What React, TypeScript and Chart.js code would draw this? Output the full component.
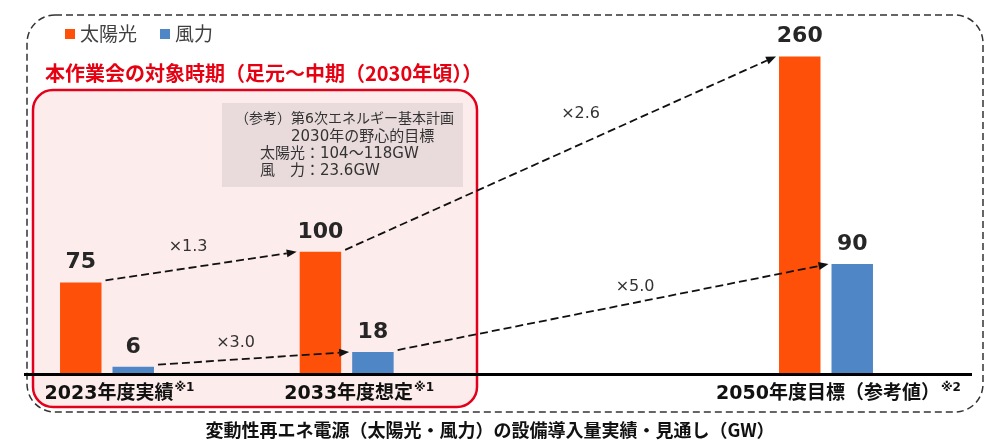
import React, { useEffect, useRef } from 'react';
import { Chart, registerables } from 'chart.js';

Chart.register(...registerables);

// ---- data ----
const categories = ['2023年度実績', '2033年度想定', '', '2050年度目標（参考値）'];
const categoryNotes = ['※1', '※1', '', '※2'];
const seriesNames = ['太陽光', '風力'];
const solarValues: (number | null)[] = [75, 100, null, 260];
const windValues: (number | null)[] = [6, 18, null, 90];
// growth arrows: [datasetIndex, fromCategoryIndex, toCategoryIndex]
const growthLinks: [number, number, number][] = [
  [0, 0, 1],
  [1, 0, 1],
  [0, 1, 3],
  [1, 1, 3],
];
const growthLabels = ['×1.3', '×3.0', '×2.6', '×5.0'];
const periodTitle = '本作業会の対象時期（足元〜中期（2030年頃））';
const noteLines = [
  '（参考）第6次エネルギー基本計画',
  '2030年の野心的目標',
  '太陽光：104〜118GW',
  '風　力：23.6GW',
];
const chartTitle = '変動性再エネ電源（太陽光・風力）の設備導入量実績・見通し（GW）';

// ---- styles ----
const seriesColors = ['#FF500A', '#4F86C6'];
const growthLabelOffsets = [
  [-13, -19],
  [-18, -15],
  [20, -39],
  [22, -20],
];
const noteLineX = [235, 291, 260, 260];
const noteLineY = [119, 137, 154, 171];
const noteLineSize = [14, 15, 15, 15];
const JP = '"Noto Sans CJK JP"';
const MIX = '"DejaVu Sans", "Noto Sans CJK JP"';

function rr(ctx: CanvasRenderingContext2D, x: number, y: number, w: number, h: number, r: number) {
  ctx.beginPath();
  ctx.moveTo(x + r, y);
  ctx.lineTo(x + w - r, y);
  ctx.arcTo(x + w, y, x + w, y + r, r);
  ctx.lineTo(x + w, y + h - r);
  ctx.arcTo(x + w, y + h, x + w - r, y + h, r);
  ctx.lineTo(x + r, y + h);
  ctx.arcTo(x, y + h, x, y + h - r, r);
  ctx.lineTo(x, y + r);
  ctx.arcTo(x, y, x + r, y, r);
  ctx.closePath();
}

function drawArrow(ctx: CanvasRenderingContext2D, x1: number, y1: number, x2: number, y2: number) {
  const ang = Math.atan2(y2 - y1, x2 - x1);
  const head = 10;
  const half = 4;
  const c = Math.cos(ang);
  const s = Math.sin(ang);
  const bx = x2 - head * c;
  const by = y2 - head * s;
  ctx.save();
  ctx.strokeStyle = '#111';
  ctx.fillStyle = '#111';
  ctx.lineWidth = 1.8;
  ctx.setLineDash([8, 4]);
  ctx.beginPath();
  ctx.moveTo(x1, y1);
  ctx.lineTo(bx, by);
  ctx.stroke();
  ctx.setLineDash([]);
  ctx.beginPath();
  ctx.moveTo(x2, y2);
  ctx.lineTo(bx - half * s, by + half * c);
  ctx.lineTo(bx + half * s, by - half * c);
  ctx.closePath();
  ctx.fill();
  ctx.restore();
}

const backgroundPlugin = {
  id: 'bgDecor',
  beforeDatasetsDraw(chart: any) {
    const ctx: CanvasRenderingContext2D = chart.ctx;
    ctx.save();
    // outer dashed frame
    rr(ctx, 27, 15, 956, 397, 28);
    ctx.setLineDash([7, 4]);
    ctx.lineWidth = 1.5;
    ctx.strokeStyle = '#333';
    ctx.stroke();
    ctx.setLineDash([]);
    // red period box
    rr(ctx, 33, 90, 444, 317, 20);
    ctx.fillStyle = '#FDECEC';
    ctx.fill();
    ctx.lineWidth = 2.5;
    ctx.strokeStyle = '#E3001B';
    ctx.stroke();
    // gray note box
    ctx.fillStyle = '#E9DBDB';
    ctx.fillRect(222, 103, 241, 84);
    ctx.restore();
  },
};

const overlayPlugin = {
  id: 'overlay',
  afterDatasetsDraw(chart: any) {
    const ctx: CanvasRenderingContext2D = chart.ctx;
    const xs = chart.scales.x;
    const ys = chart.scales.y;
    const y0 = ys.getPixelForValue(0);
    ctx.save();

    // axis line
    ctx.strokeStyle = '#000';
    ctx.lineWidth = 3;
    ctx.beginPath();
    ctx.moveTo(24, y0 + 0.5);
    ctx.lineTo(972, y0 + 0.5);
    ctx.stroke();

    // value labels
    ctx.fillStyle = '#262626';
    ctx.font = `bold 22px "DejaVu Sans"`;
    ctx.textAlign = 'center';
    ctx.textBaseline = 'alphabetic';
    chart.data.datasets.forEach((ds: any, di: number) => {
      const meta = chart.getDatasetMeta(di);
      ds.data.forEach((v: number | null, i: number) => {
        if (v == null) return;
        const el = meta.data[i];
        ctx.fillText(String(v), el.x, el.y - 14);
      });
    });

    // growth arrows
    growthLinks.forEach(([di, a, b], k) => {
      const meta = chart.getDatasetMeta(di);
      const ea = meta.data[a];
      const eb = meta.data[b];
      const x1 = ea.x + ea.width / 2 + 4;
      const y1 = ea.y - 2;
      const x2 = eb.x - eb.width / 2 - 3;
      const y2 = eb.y;
      drawArrow(ctx, x1, y1, x2, y2);
      const mx = (x1 + x2) / 2 + growthLabelOffsets[k][0];
      const my = (y1 + y2) / 2 + growthLabelOffsets[k][1];
      ctx.fillStyle = '#333';
      ctx.font = `16px "DejaVu Sans"`;
      ctx.textAlign = 'center';
      ctx.textBaseline = 'middle';
      ctx.fillText(growthLabels[k], mx, my);
    });

    // note text
    ctx.fillStyle = '#333';
    ctx.textAlign = 'left';
    ctx.textBaseline = 'middle';
    noteLines.forEach((t, i) => {
      ctx.font = `${noteLineSize[i]}px ${MIX}`;
      ctx.fillText(t, noteLineX[i], noteLineY[i]);
    });

    // legend
    seriesNames.forEach((name, i) => {
      const lx = i === 0 ? 65 : 160;
      ctx.fillStyle = seriesColors[i];
      ctx.fillRect(lx, 29, 10, 10);
      ctx.fillStyle = '#404040';
      ctx.font = `19px ${JP}`;
      ctx.textAlign = 'left';
      ctx.textBaseline = 'middle';
      ctx.fillText(name, lx + 15, 34);
    });

    // period title
    ctx.fillStyle = '#E50012';
    ctx.font = `bold 20px ${JP}`;
    ctx.textAlign = 'left';
    ctx.textBaseline = 'middle';
    ctx.fillText(periodTitle, 45, 73);

    // category labels
    categories.forEach((c, i) => {
      if (!c) return;
      const cx = xs.getPixelForValue(i);
      ctx.font = `bold 19px ${MIX}`;
      const w = ctx.measureText(c).width;
      ctx.fillStyle = '#111';
      ctx.textAlign = 'left';
      ctx.textBaseline = 'middle';
      const sx = cx - w / 2 + 2;
      ctx.fillText(c, sx, 394);
      ctx.font = `bold 12px ${MIX}`;
      ctx.fillText(categoryNotes[i], sx + w + 1, 388);
    });

    // bottom title
    ctx.fillStyle = '#111';
    ctx.font = `bold 18px ${JP}`;
    ctx.textAlign = 'center';
    ctx.textBaseline = 'middle';
    ctx.fillText(chartTitle, 490, 430);

    ctx.restore();
  },
};

export default function App() {
  const ref = useRef<HTMLCanvasElement | null>(null);
  useEffect(() => {
    if (!ref.current) return;
    const chart = new Chart(ref.current, {
      type: 'bar',
      data: {
        labels: categories,
        datasets: [
          {
            label: seriesNames[0],
            data: solarValues,
            backgroundColor: seriesColors[0],
            barPercentage: 0.79,
            categoryPercentage: 0.438,
            clip: false as any,
          },
          {
            label: seriesNames[1],
            data: windValues,
            backgroundColor: seriesColors[1],
            barPercentage: 0.79,
            categoryPercentage: 0.438,
            clip: false as any,
          },
        ],
      },
      options: {
        animation: false,
        responsive: false,
        devicePixelRatio: 1,
        layout: { padding: { left: 107, right: 174, top: 32, bottom: 74 } },
        scales: {
          x: { display: false, offset: false, grid: { display: false } },
          y: { display: false, min: 0, max: 280, grid: { display: false } },
        },
        plugins: {
          legend: { display: false },
          title: { display: false },
          tooltip: { enabled: false },
        },
      },
      plugins: [backgroundPlugin, overlayPlugin],
    });
    return () => chart.destroy();
  }, []);
  return (
    <div style={{ position: 'absolute', left: 0, top: 0, width: 1000, height: 448, background: '#fff' }}>
      <canvas ref={ref} width={1000} height={448} style={{ display: 'block' }} />
    </div>
  );
}
